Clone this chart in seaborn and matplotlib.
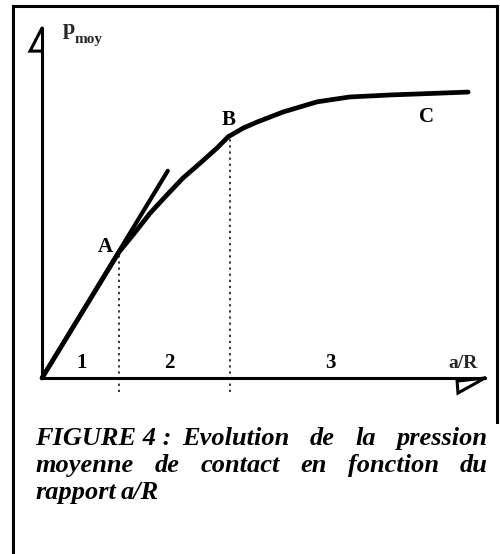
import matplotlib
matplotlib.use("Agg")
import matplotlib.pyplot as plt
import seaborn as sns
import pandas as pd

# Normalised ratio a/R and mean contact pressure p_moy along the curve
a_sur_R = [0.0, 0.174, 0.210, 0.244, 0.282, 0.318, 0.357, 0.395, 0.420,
           0.454, 0.485, 0.544, 0.621, 0.695, 0.792, 0.88, 0.962]
p_moy = [0.0, 0.360, 0.416, 0.471, 0.523, 0.571, 0.614, 0.657, 0.689,
         0.714, 0.731, 0.760, 0.789, 0.803, 0.809, 0.813, 0.817]

# Initial elastic tangent through the origin
tangente_x = [0.0, 0.284]
tangente_y = [0.0, 0.592]

# Transition points A and B
points_noms = ["A", "B"]
points_x = [0.174, 0.425]
points_y = [0.360, 0.697]

zones = ["1", "2", "3"]
zones_x = [0.090, 0.287, 0.652]

legende = [
    ["FIGURE 4 :", "Evolution", "de", "la", "pression"],
    ["moyenne", "de", "contact", "en", "fonction", "du"],
    ["rapport", "a/R"],
]

sns.set_theme(style="white")
plt.rcParams["font.family"] = ["Liberation Serif", "DejaVu Serif"]

W, H = 500, 554
fig = plt.figure(figsize=(W / 100, H / 100), dpi=100)
fig.patch.set_facecolor("white")

# page layer in pixel units for the frame and the caption
page = fig.add_axes([0, 0, 1, 1])
page.set_xlim(0, W)
page.set_ylim(H, 0)
page.axis("off")
frame_kw = dict(color="black", lw=2.2, solid_capstyle="projecting")
page.plot([13, 13], [6, 554], **frame_kw)
page.plot([13, 497], [6, 6], **frame_kw)
page.plot([497, 497], [6, 422], **frame_kw)

# chart area
x0, x1, ytop, ybot = 42, 485, 28, 378
ax = fig.add_axes([x0 / W, 1 - ybot / H, (x1 - x0) / W, (ybot - ytop) / H])
ax.set_xlim(0, 1)
ax.set_ylim(0, 1)
ax.axis("off")

# axes with half-open arrowheads
axis_kw = dict(color="black", lw=2.2, clip_on=False, solid_joinstyle="miter")
ax.plot([0, 0], [0, 1.0], **axis_kw)
ax.plot([0, 1.0], [0, 0], **axis_kw)
ax.plot([0, -0.027, 0], [1.0, 0.934, 0.934], **axis_kw)
ax.plot([1.0, 0.937, 0.939, 1.0], [0.0, -0.009, -0.043, 0.0], **axis_kw)

# dotted guides under A and B
for px, py in zip(points_x, points_y):
    ax.plot([px, px], [-0.04, py], color="black", lw=1.1,
            linestyle=(0, (1.5, 2.5)), clip_on=False)

curve = pd.DataFrame({"a/R": a_sur_R, "p_moy": p_moy})
sns.lineplot(data=curve, x="a/R", y="p_moy", ax=ax, color="black",
             lw=3.4, sort=False, clip_on=False)
tang = pd.DataFrame({"x": tangente_x, "y": tangente_y})
sns.lineplot(data=tang, x="x", y="y", ax=ax, color="black", lw=3.0,
             sort=False, clip_on=False)
for ln in ax.lines[-2:]:
    ln.set_solid_joinstyle("round")
    ln.set_solid_capstyle("round")
ax.axis("off")
ax.set_xlim(0, 1)
ax.set_ylim(0, 1)

lab_kw = dict(fontsize=15, fontweight="bold", ha="center", va="baseline",
              color="black")
ax.text(points_x[0] - 0.032, 0.36, points_noms[0], **lab_kw)
ax.text(points_x[1] - 0.003, 0.723, points_noms[1], **lab_kw)
ax.text(0.869, 0.731, "C", **lab_kw)
for z, zx in zip(zones, zones_x):
    ax.text(zx, 0.029, z, **lab_kw)
ax.text(0.950, 0.029, "a/R", fontsize=14, fontweight="bold",
        ha="center", va="baseline")

page.text(63, 34, "p", fontsize=16, fontweight="bold", va="baseline")
page.text(75, 43, "moy", fontsize=11, fontweight="bold", va="baseline")

# justified caption
cap_kw = dict(fontsize=19, fontweight="bold", fontstyle="italic",
              va="baseline", color="black")
renderer = fig.canvas.get_renderer()


def justify(words, left, right, base):
    items = [page.text(left, base, w, **cap_kw) for w in words]
    widths = [t.get_window_extent(renderer).width for t in items]
    gap = (right - left - sum(widths)) / max(len(words) - 1, 1)
    x = left
    for t, w in zip(items, widths):
        t.set_x(x)
        x += w + gap


page.text(35, 445, legende[0][0], **cap_kw)
justify(legende[0][1:], 182, 488, 445)
justify(legende[1], 35, 488, 472)
lx = 35
for w in legende[2]:
    t = page.text(lx, 499, w, **cap_kw)
    lx += t.get_window_extent(renderer).width + 5

fig.savefig("out.png", dpi=100, facecolor="white")
